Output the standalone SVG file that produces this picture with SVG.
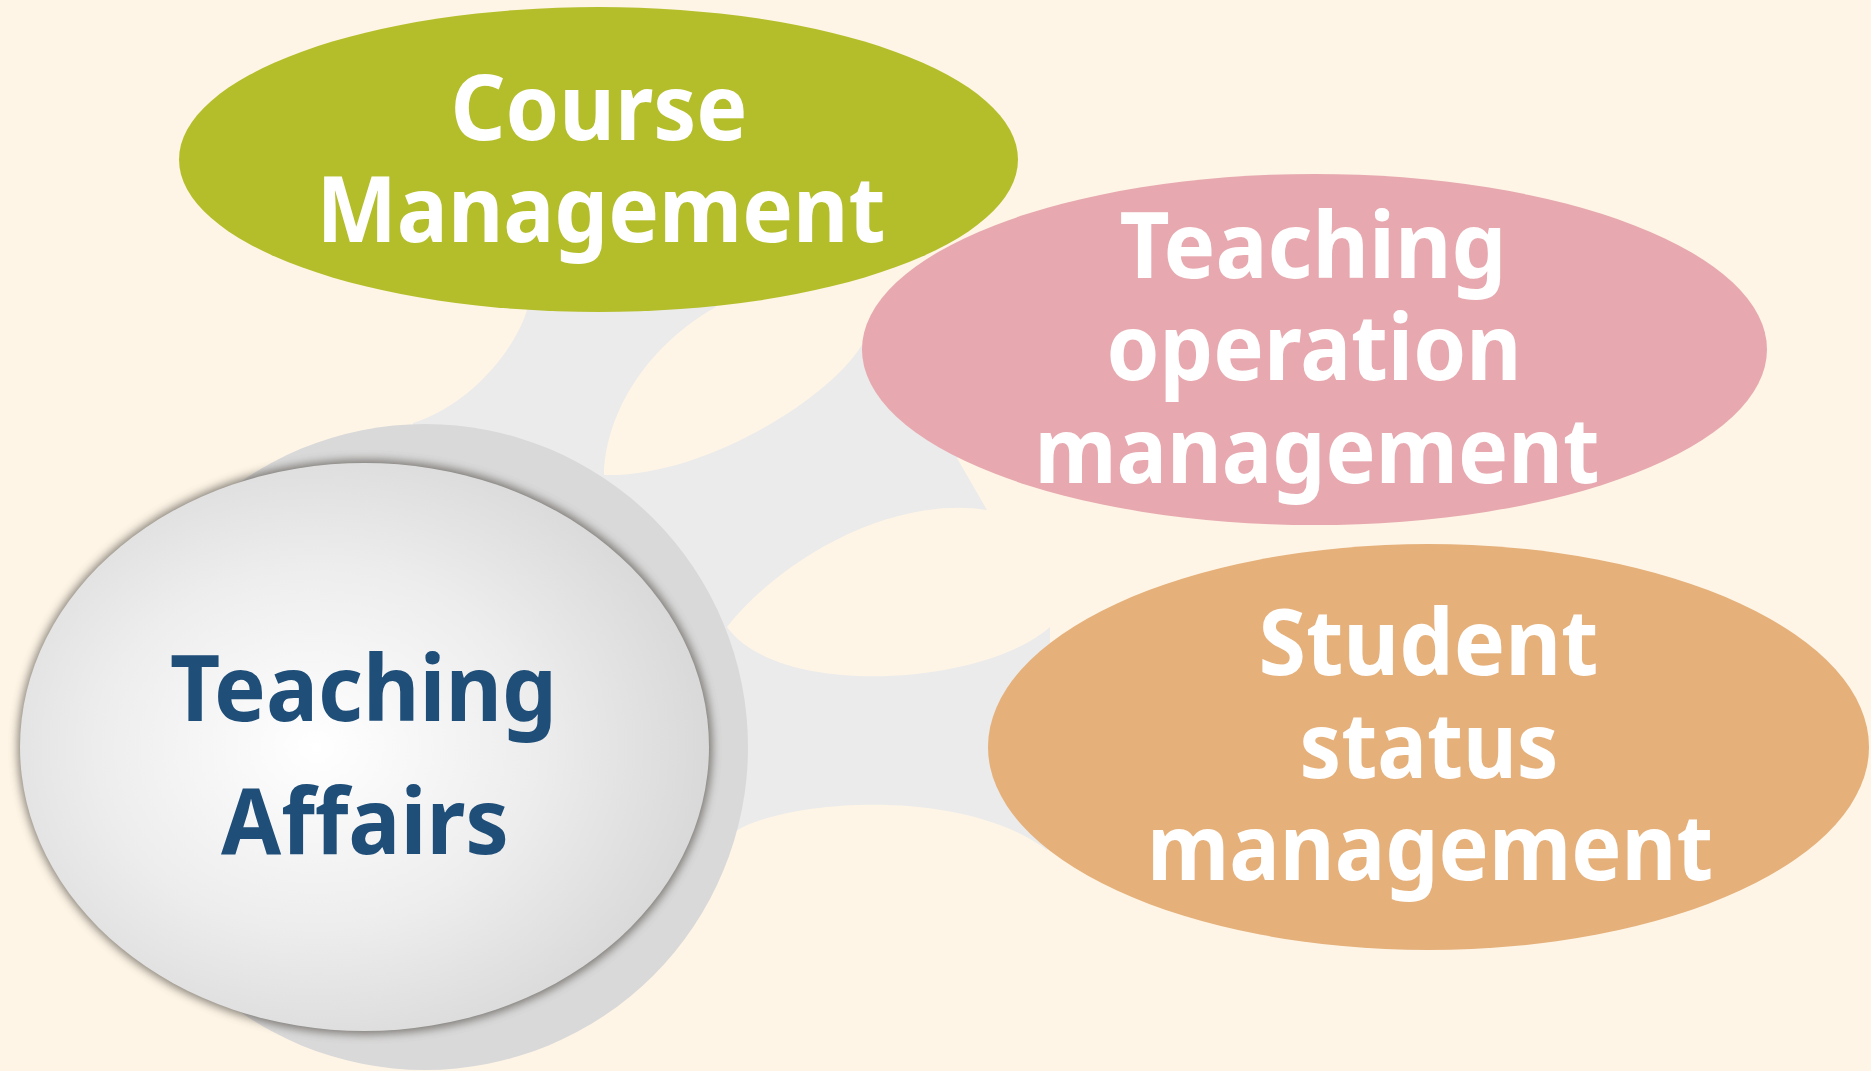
<svg xmlns="http://www.w3.org/2000/svg" width="1871" height="1071" viewBox="0 0 1871 1071">
  <defs>
    <radialGradient id="hubGrad" cx="0.43" cy="0.5" r="0.58">
      <stop offset="0" stop-color="#ffffff"/>
      <stop offset="0.55" stop-color="#ededed"/>
      <stop offset="1" stop-color="#d8d8d8"/>
    </radialGradient>
    <filter id="glow" x="-10%" y="-10%" width="120%" height="120%">
      <feGaussianBlur stdDeviation="5"/>
    </filter>
    <style>
      .lbl { font-family: "Noto Sans", "Open Sans", "Liberation Sans", sans-serif; font-weight: 700; font-size: 92px; text-anchor: middle; }
      .w { fill: #ffffff; }
      .b { fill: #1f4e79; }
    </style>
  </defs>
  <rect x="0" y="0" width="1871" height="1071" fill="#fef5e6"/>

  <g id="connectors">
    <path fill="#ebebeb" d="M 527,310 C 515,350 470,405 413,423 L 425,747 L 733,833 C 780,800 960,785 1047,850 L 1100,800 L 1100,700 L 1050,660 L 1050,627 C 985,685 780,700 727,627 C 780,560 890,495 987,510 L 957,458 L 1000,420 L 900,360 L 863,343 C 830,400 700,478 604,475 C 605,420 640,350 716,307 L 650,200 L 540,200 Z"/>
  </g>

  <g id="hub">
    <circle cx="425" cy="747" r="323" fill="#d9d9d9"/>
    <ellipse cx="365" cy="747" rx="347" ry="287" fill="#5a5550" opacity="0.75" filter="url(#glow)"/>
    <ellipse cx="364.5" cy="747" rx="344.5" ry="284" fill="url(#hubGrad)"/>
    <text class="lbl b" x="363.5" y="721" textLength="387" lengthAdjust="spacingAndGlyphs">Teaching</text>
    <text class="lbl b" x="365" y="854" textLength="288" lengthAdjust="spacingAndGlyphs">Affairs</text>
  </g>

  <g id="course">
    <ellipse cx="598.5" cy="159.5" rx="419.5" ry="152.5" fill="#b4be2a"/>
    <text class="lbl w" x="599" y="140" textLength="297" lengthAdjust="spacingAndGlyphs">Course</text>
    <text class="lbl w" x="601" y="242" textLength="569" lengthAdjust="spacingAndGlyphs">Management</text>
  </g>

  <g id="operation">
    <ellipse cx="1314.5" cy="349.5" rx="452.5" ry="175.5" fill="#e7a9af"/>
    <text class="lbl w" x="1313" y="278" textLength="387" lengthAdjust="spacingAndGlyphs">Teaching</text>
    <text class="lbl w" x="1314" y="380" textLength="415" lengthAdjust="spacingAndGlyphs">operation</text>
    <text class="lbl w" x="1317" y="483" textLength="565" lengthAdjust="spacingAndGlyphs">management</text>
  </g>

  <g id="student">
    <ellipse cx="1428.5" cy="747" rx="440.5" ry="203" fill="#e5b07a"/>
    <text class="lbl w" x="1428.5" y="675" textLength="340" lengthAdjust="spacingAndGlyphs">Student</text>
    <text class="lbl w" x="1429" y="778" textLength="259" lengthAdjust="spacingAndGlyphs">status</text>
    <text class="lbl w" x="1430" y="880" textLength="566" lengthAdjust="spacingAndGlyphs">management</text>
  </g>
</svg>
